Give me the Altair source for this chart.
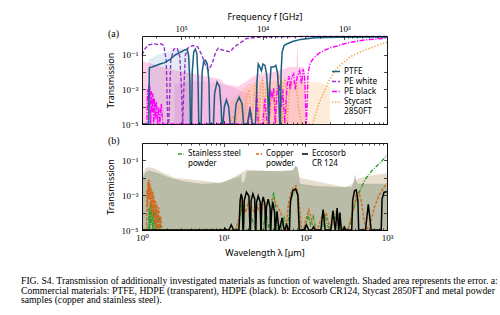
import altair as alt
import pandas as pd

C_UM_GHZ = 299792.458   # wavelength [um] = C / frequency [GHz]
T_FLOOR = 1e-5          # bottom of the transmission axes

# ---------------- panel (a): commercial materials ----------------
ptfe_lam = [1.0, 1.21, 1.23, 1.33, 1.66, 1.9, 2.2, 2.55, 2.9, 3.3, 3.56, 3.72, 3.85, 3.92,
            4.05, 4.12, 4.3, 4.5, 4.7, 4.85, 4.95,
            5.3, 5.45, 5.7, 6.0, 6.3, 6.6, 6.75,
            7.5, 7.75, 8.3, 8.9, 9.3, 9.5,
            9.8, 10.2, 10.8, 11.5, 12.0,
            13.5, 14.2, 15.5, 16.8, 17.5,
            19.5, 21.0, 22.5,
            24.5, 25.5, 26.5, 27.8, 29.0, 30.3, 32.0, 33.5, 34.5, 35.5,
            36.5, 38.0, 41.0, 43.5, 45.5, 47.0, 48.5,
            49.5, 50.5, 52.0, 55.0, 60.0, 70.0, 88.0, 130.0, 250.0, 1000.0]
ptfe_t = [1e-5, 1e-5, 0.018, 0.02, 0.03, 0.036, 0.055, 0.1, 0.14, 0.19, 0.22, 0.1, 0.003, 1e-5,
          1e-5, 0.01, 0.15, 0.22, 0.12, 0.005, 1e-5,
          1e-5, 0.01, 0.045, 0.05, 0.03, 0.003, 1e-5,
          1e-5, 6e-4, 2.7e-3, 1.5e-3, 1e-4, 1e-5,
          1e-5, 1e-4, 2.5e-4, 1e-4, 1e-5,
          1e-5, 1.5e-4, 3.5e-4, 1.5e-4, 1e-5,
          1e-5, 8e-5, 1e-5,
          1e-5, 2e-3, 0.03, 0.02, 0.012, 0.03, 0.025, 0.008, 1e-3, 1e-5,
          1e-3, 0.02, 0.02, 0.025, 0.01, 1e-3, 1e-5,
          1e-5, 0.01, 0.15, 0.35, 0.45, 0.6, 0.8, 1.0, 1.05, 1.1]

pew_lam = [1.0, 1.08, 1.2, 1.4, 1.55, 1.7, 1.85, 1.98, 2.06, 2.1,
           2.14, 2.25, 2.45, 2.7, 2.9, 3.05, 3.15, 3.25, 3.4, 3.7,
           4.2, 4.8, 5.4, 6.0, 6.5, 7.2, 8.0, 8.6, 9.4, 10.5,
           12.0, 13.5, 16.0, 19.0, 25.0, 40.0, 100.0, 1000.0]
pew_t = [0.1, 0.22, 0.38, 0.45, 0.4, 0.45, 0.35, 0.05, 2e-5, 1e-5,
         2e-5, 0.05, 0.22, 0.25, 0.08, 1e-3, 1e-5, 1e-3, 0.1, 0.28,
         0.35, 0.3, 0.1, 0.025, 0.013, 0.03, 0.15, 0.25, 0.2, 0.18,
         0.15, 0.3, 0.5, 0.9, 1.05, 1.12, 1.18, 1.2]

peb_lam = [1.0, 1.15, 1.17, 1.19, 1.21, 1.23, 1.25, 1.28, 1.3, 1.33,
           1.36, 1.39, 1.42, 1.46, 1.5, 1.55, 1.6, 1.65, 1.72, 1.8,
           20.0, 21.0, 22.0, 24.5, 25.5, 26.5, 30.0, 32.0, 34.0, 36.0,
           37.5, 39.0, 41.0, 43.0, 45.0, 48.0, 51.0, 53.0, 56.0, 60.0,
           63.0, 65.0, 68.0, 72.0, 75.0, 80.0, 85.0, 90.0, 94.0, 98.0,
           101.0, 103.0, 105.0, 108.0, 115.0, 125.0, 145.0, 165.0, 200.0, 245.0,
           300.0, 380.0, 510.0, 750.0, 1000.0]
peb_t = [1e-5, 1e-5, 1e-3, 1e-4, 2e-3, 3e-4, 1.5e-3, 1e-5, 8e-4, 5e-5,
         6e-4, 1e-5, 3e-4, 2e-5, 2e-4, 1e-5, 1e-4, 1e-5, 1.5e-4, 1e-5,
         1e-5, 1e-4, 1e-5, 1e-5, 8e-4, 1e-5, 1e-5, 3e-4, 1e-5, 1e-5,
         1e-3, 3e-4, 1.2e-3, 1e-5, 8e-4, 1.5e-3, 1e-4, 1e-3, 1e-5, 2e-3,
         6e-3, 1e-3, 5e-3, 8e-3, 1e-3, 6e-3, 0.012, 2e-3, 0.015, 5e-3,
         1e-4, 1e-5, 1e-4, 0.01, 0.035, 0.06, 0.12, 0.17, 0.26, 0.33,
         0.45, 0.57, 0.72, 0.85, 0.95]

sty_lam = [12.0, 13.0, 14.0, 15.5, 16.5, 17.5, 19.0, 20.5, 22.0, 24.0,
           25.5, 27.0, 28.5, 30.0, 31.5, 33.0, 35.0, 36.5, 38.0, 40.0,
           42.0, 44.0, 47.0, 50.0, 52.0, 54.0, 57.0, 60.0, 63.0, 68.0,
           74.0, 78.0, 82.0, 90.0, 123.0, 150.0, 200.0, 250.0, 320.0, 350.0,
           500.0, 750.0, 1000.0]
sty_t = [1e-5, 3e-5, 1e-5, 1e-4, 2e-4, 1e-5, 4e-4, 1e-3, 1e-5, 1.5e-3,
         4e-3, 1e-5, 2e-3, 5e-3, 1e-5, 1e-3, 1.5e-3, 1e-5, 2e-4, 8e-4,
         1e-5, 1e-3, 6e-3, 3e-3, 1e-5, 2e-3, 5e-3, 1e-5, 5e-4, 2e-3,
         2e-3, 2e-3, 1e-4, 1e-5, 1e-5, 2e-4, 4e-3, 0.02, 0.05, 0.077,
         0.17, 0.35, 0.55]

# error bands (upper edge; shading runs down to the axis floor)
ptfe_err_lam = [1.2, 1.5, 2.0, 3.0, 3.5, 4.0]
ptfe_err_up = [0.05, 0.1, 0.15, 0.25, 0.2, 0.05]
pew_err_lam = [2.5, 4.0, 6.0, 10.0, 15.0, 20.0]
pew_err_up = [2e-3, 3e-3, 3e-3, 2e-3, 1e-3, 5e-4]
peb_err_lam = [1.0, 1.5, 2.2, 4.4, 9.0, 10.4, 15.0, 20.0, 26.0, 40.0, 65.0, 78.0, 80.0, 82.0, 95.0, 100.0]
peb_err_up = [0.045, 0.025, 0.0155, 0.008, 0.004, 0.002, 0.0015, 0.0036, 0.008, 0.01, 0.02, 0.02, 0.7, 0.02, 0.02, 0.01]
sty_err_lam = [12.0, 20.0, 40.0, 70.0, 100.0, 150.0, 200.0]
sty_err_up = [2e-4, 2e-3, 3e-3, 3e-3, 3e-3, 2.5e-3, 1.5e-3]

# ---------------- panel (b): absorbers and powders ----------------
ecc_lam = [1.0, 10.0, 10.4, 10.9, 11.6, 12.4, 13.2, 15.2,
           15.4, 15.9, 16.4, 16.9, 17.2,
           17.5, 17.9, 19.0, 20.4, 21.0,
           21.3, 21.7, 22.8, 24.0, 24.5,
           24.8, 25.3, 26.5, 28.0, 28.5,
           28.8, 29.3, 30.5, 32.0, 32.5,
           32.8, 33.4, 35.0, 37.0, 37.5,
           37.8, 38.5, 40.0, 42.0, 42.5,
           43.0, 45.0, 47.5,
           48.0, 52.0, 55.0,
           56.0, 59.0, 62.0,
           64.0, 65.5, 70.0, 76.0, 81.0, 84.0,
           96.0, 103.0, 110.0,
           120.0, 126.0, 133.0,
           155.0, 165.0, 175.0,
           205.0, 218.0, 232.0,
           234.0, 245.0, 256.0,
           258.0, 265.0, 275.0,
           290.0, 300.0, 315.0,
           370.0, 380.0, 400.0, 420.0, 440.0, 450.0,
           545.0, 590.0, 640.0,
           850.0, 870.0, 920.0, 1000.0]
ecc_t = [1e-5, 1e-5, 1.2e-5, 1e-5, 1e-5, 2e-5, 1e-5, 1e-5,
         1e-5, 5e-4, 1.2e-3, 6e-4, 1e-5,
         1e-5, 5e-4, 1.5e-3, 9e-4, 1e-5,
         1e-5, 5e-4, 1.2e-3, 6e-4, 1e-5,
         1e-5, 4e-4, 9e-4, 4e-4, 1e-5,
         1e-5, 3e-4, 8e-4, 3e-4, 1e-5,
         1e-5, 2e-4, 6e-4, 2e-4, 1e-5,
         1e-5, 1e-4, 4e-4, 1e-4, 1e-5,
         1e-5, 1.2e-4, 1e-5,
         1e-5, 5e-5, 1e-5,
         1e-5, 2e-5, 1e-5,
         1e-5, 4e-4, 1.8e-3, 2.3e-3, 1e-3, 1e-5,
         1e-5, 2e-5, 1e-5,
         1e-5, 1.5e-5, 1e-5,
         1e-5, 1.5e-4, 1e-5,
         1e-5, 1.3e-4, 1e-5,
         1e-5, 1.8e-4, 1e-5,
         1e-5, 1e-4, 1e-5,
         1e-5, 1.5e-5, 1e-5,
         1e-5, 5e-4, 1.8e-3, 2e-3, 5e-4, 1e-5,
         1e-5, 3e-4, 1e-5,
         1e-5, 6e-4, 1.5e-3, 1.6e-3]

cu_lam = [1.0, 1.14, 1.155, 1.17, 1.185, 1.2, 1.215, 1.23, 1.245, 1.26,
          1.28, 1.30, 1.32, 1.34, 1.36, 1.38, 1.40, 1.43, 1.46, 1.49,
          1.52, 1.56, 1.60, 1.64, 1.69, 1.75, 1.8,
          14.0, 15.5, 16.5, 17.5, 18.5, 20.0, 22.0, 24.0, 26.0, 28.0,
          31.0, 34.0, 37.0, 40.0, 43.0, 46.0, 50.0, 55.0, 58.0, 62.0,
          67.0, 72.0, 77.0, 82.0, 86.0, 90.0,
          95.0, 100.0, 110.0, 118.0, 125.0, 140.0, 160.0, 180.0, 195.0, 205.0,
          220.0, 240.0, 260.0, 280.0, 330.0, 380.0, 420.0, 450.0, 480.0, 520.0,
          560.0, 620.0, 700.0, 800.0, 900.0, 1000.0]
cu_t = [1e-5, 1e-5, 2e-3, 2e-4, 6e-3, 8e-4, 8e-3, 6e-4, 5e-3, 1e-4,
        3e-3, 3e-4, 2e-3, 5e-5, 1.5e-3, 1e-4, 8e-4, 2e-5, 5e-4, 1e-5,
        3e-4, 1e-5, 2e-4, 1e-5, 6e-5, 1e-5, 1e-5,
        1e-5, 5e-5, 1e-3, 3e-4, 1e-4, 4e-4, 2e-4, 1e-4, 2e-4, 1e-4,
        3e-4, 4e-4, 5e-4, 6e-4, 4e-4, 2e-4, 1e-4, 1e-5, 1e-5, 3e-4,
        1.5e-3, 3e-3, 3.5e-3, 1e-3, 1e-4, 1e-5,
        1e-5, 3e-5, 1.5e-4, 5e-5, 1e-5, 1e-5, 6e-5, 1e-4, 2e-5, 1e-5,
        8e-5, 1.2e-4, 6e-5, 1e-5, 1e-5, 1e-4, 1e-3, 1.5e-3, 6e-4, 5e-5,
        1e-5, 2e-5, 2e-4, 1e-3, 2.5e-3, 5e-3]

ss_lam = [1.0, 1.2, 1.22, 1.24, 1.27, 1.29, 1.32, 1.35, 1.38, 1.41,
          1.45, 1.48, 1.52, 1.56, 1.62, 1.7,
          14.0, 15.5, 16.5, 17.3, 20.0, 22.0, 25.0, 30.0, 33.0, 36.0,
          39.0, 41.0, 43.0, 45.0, 50.0, 55.0, 60.0, 64.0, 68.0, 73.0,
          78.0, 82.0, 86.0,
          100.0, 108.0, 115.0, 125.0, 135.0, 160.0, 175.0, 185.0, 200.0, 230.0,
          245.0, 260.0, 290.0, 330.0, 360.0, 400.0, 470.0, 540.0, 650.0, 820.0, 1000.0]
ss_t = [1e-5, 1e-5, 2e-4, 1e-5, 4e-4, 2e-5, 3e-4, 1e-5, 2e-4, 1e-5,
        1.5e-4, 1e-5, 1e-4, 1e-5, 5e-5, 1e-5,
        1e-5, 2e-5, 3e-4, 1e-5, 1e-5, 5e-5, 1e-5, 1e-5, 1e-4, 1e-5,
        3e-4, 1.5e-3, 2e-4, 1e-5, 1e-5, 5e-5, 1e-5, 1e-4, 8e-4, 1.5e-3,
        1.8e-3, 5e-4, 1e-5,
        1e-5, 8e-5, 2e-5, 6e-5, 1e-5, 1e-5, 8e-5, 2e-5, 1e-5, 5e-5,
        1.2e-4, 3e-5, 1e-5, 1e-5, 3e-5, 2.5e-4, 2e-3, 8e-3, 0.025, 0.07, 0.2]

ecc_err_lam = [1.0, 1.05, 1.1, 1.2, 1.35, 1.6, 2.2, 3.5, 5.5, 9.0,
               13.0, 15.5, 16.3, 16.6, 17.0, 18.0, 18.8, 19.5, 30.0, 50.0,
               70.0, 76.0, 80.0, 84.0, 86.0, 130.0, 250.0, 370.0, 395.0, 405.0,
               420.0, 440.0, 1000.0]
ecc_err_up = [0.008, 0.014, 0.02, 0.026, 0.024, 0.018, 0.01, 0.006, 0.0045, 0.005,
              0.009, 0.012, 0.017, 0.006, 0.005, 0.007, 0.018, 0.025, 0.025, 0.025,
              0.027, 0.05, 0.04, 0.015, 0.0045, 0.0035, 0.003, 0.003, 0.007, 0.016,
              0.007, 0.0045, 0.0045]
cu_err_lam = [1.0, 1.1, 1.2, 1.4, 1.7, 2.5, 10.0, 15.0, 17.0, 19.5, 30.0, 300.0, 360.0, 450.0, 600.0, 800.0, 1000.0]
cu_err_up = [0.014, 0.035, 0.04, 0.035, 0.022, 0.01, 0.005, 0.015, 0.022, 0.03, 0.027, 0.003, 0.004, 0.009, 0.013, 0.016, 0.018]

# ---------------- ticks and labels ----------------
lam_major = [1, 10, 100, 1000]
lam_labels = ["10⁰", "10¹", "10²", "10³"]
lam_minor = [k * 10 ** n for n in range(3) for k in range(2, 10)]
freq_major_ghz = [1e5, 1e4, 1e3]
freq_labels = ["10⁵", "10⁴", "10³"]
freq_major = [C_UM_GHZ / f for f in freq_major_ghz]
freq_minor = [C_UM_GHZ / (k * 10 ** n) for n in range(2, 6) for k in range(2, 10)
              if 1 <= C_UM_GHZ / (k * 10 ** n) <= 1000]
t_decades = [1e-5, 1e-4, 1e-3, 1e-2, 1e-1]
t_label_vals = [1e-1, 1e-3, 1e-5]
t_labels = ["10⁻¹", "10⁻³", "10⁻⁵"]

caption_lines = [
    "FIG. S4.  Transmission of additionally investigated materials as function of wavelength.  Shaded area represents the error.  a:",
    "Commercial materials: PTFE, HDPE (transparent), HDPE (black).  b: Eccosorb CR124, Stycast 2850FT and metal powder",
    "samples (copper and stainless steel).",
]

# ---------------- helpers ----------------
SERIF = "Liberation Serif, DejaVu Serif, serif"
SANS = "Noto Sans, DejaVu Sans, sans-serif"
W, H = 500, 315
XS = alt.Scale(type="log", domain=[1, 1000], range=[142, 387], nice=False)
YA = alt.Scale(type="log", domain=[1e-5, 1.2589], range=[124, 36], nice=False)
YB = alt.Scale(type="log", domain=[1e-5, 1.0], range=[230, 143], nice=False)


def label_expr(values, labels):
    expr = "''"
    for v, l in reversed(list(zip(values, labels))):
        expr = f"abs(datum.value / {v} - 1) < 0.01 ? '{l}' : {expr}"
    return expr


def axis(orient, offset, values, labels=False, ticks=True, domain=False, tick_size=3.5,
         title=None, lexpr=None, label_padding=3, title_padding=4):
    kw = dict(orient=orient, offset=offset, values=values, labels=labels, ticks=ticks,
              domain=domain, grid=False, zindex=2, tickSize=tick_size, tickWidth=0.7,
              tickColor="black", domainColor="black", domainWidth=0.9,
              labelFont=SERIF, labelFontSize=9, labelColor="black",
              labelPadding=label_padding, labelFlush=False, labelOverlap=False,
              titleFont=SANS, titleFontSize=9, titleFontWeight="normal",
              titleColor="black", titlePadding=title_padding, title=title)
    if lexpr:
        kw["labelExpr"] = lexpr
    return alt.Axis(**kw)


def series(lam, t, name):
    return pd.DataFrame({"lam": lam, "T": t, "name": name})


def band(lam, up):
    return pd.DataFrame({"lam": lam, "up": up, "lo": [T_FLOOR] * len(lam)})


def area_layer(df, color, opacity, ys, xaxis=None, yaxis=None):
    return alt.Chart(df).mark_area(color=color, opacity=opacity).encode(
        x=alt.X("lam:Q", scale=XS, axis=xaxis),
        y=alt.Y("up:Q", scale=ys, axis=yaxis),
        y2=alt.Y2("lo"),
    )


def legend(x, y, dash=None, lexpr=None, size=64, font_size=8.5):
    kw = dict(orient="none", legendX=x, legendY=y, title=None, symbolType="stroke",
              symbolStrokeWidth=1.5, symbolSize=size, labelFont=SANS, labelFontSize=font_size,
              labelColor="black", padding=0, offset=0, labelOffset=3)
    if dash:
        kw["symbolDash"] = dash
    if lexpr:
        kw["labelExpr"] = lexpr
    return alt.Legend(**kw)


def line_layer(df, color, dash, ys, leg, width=1.4, xaxis=None, yaxis=None):
    mk = dict(strokeWidth=width)
    if dash:
        mk["strokeDash"] = dash
    return alt.Chart(df).mark_line(**mk).encode(
        x=alt.X("lam:Q", scale=XS, axis=xaxis),
        y=alt.Y("T:Q", scale=ys, axis=yaxis),
        color=alt.Color("name:N", scale=alt.Scale(range=[color]), legend=leg),
    )


def text_layer(text, x, y, font, size, baseline="middle", line_height=10):
    return alt.Chart(alt.Data(values=[{}])).mark_text(
        text=text, font=font, fontSize=size, align="left", baseline=baseline,
        lineHeight=line_height, color="black",
    ).encode(x=alt.value(x), y=alt.value(y))


# ---------------- panel (a) layers ----------------
A_TOP, A_BOT, B_TOP, B_BOT, LEFT, RIGHT = 36, 124, 143, 230, 142, 387

layers = [
    area_layer(band(ptfe_err_lam, ptfe_err_up), "#a9c8dc", 0.35, YA,
               xaxis=axis("top", -A_TOP, freq_major, labels=True, ticks=False, domain=True,
                          title="Frequency f [GHz]", lexpr=label_expr(freq_major, freq_labels),
                          label_padding=3, title_padding=3),
               yaxis=axis("left", -LEFT, t_label_vals, labels=True, ticks=False, domain=True,
                          title="Transmission", lexpr=label_expr(t_label_vals, t_labels),
                          label_padding=4, title_padding=6)),
    area_layer(band(pew_err_lam, pew_err_up), "#9932cc", 0.12, YA,
               xaxis=axis("bottom", A_TOP - H, freq_major),
               yaxis=axis("right", LEFT - W, t_decades)),
    area_layer(band(peb_err_lam, peb_err_up), "#ff1493", 0.2, YA,
               xaxis=axis("bottom", A_TOP - H, freq_minor, tick_size=2),
               yaxis=axis("left", -RIGHT, t_decades, domain=True)),
    area_layer(band(sty_err_lam, sty_err_up), "#f5a040", 0.2, YA,
               xaxis=axis("top", -A_BOT, lam_major, domain=True)),
    line_layer(series(sty_lam, sty_t, "Stycast 2850FT"), "#f5a040", [1.3, 1.8], YA,
               legend(331, 97, [1.3, 1.8], "['Stycast', '2850FT']", font_size=8.3), width=1.5,
               xaxis=axis("top", -A_BOT, lam_minor, tick_size=2)),
    line_layer(series(peb_lam, peb_t, "PE black"), "#ff00ff", [5, 1.5, 1.2, 1.5], YA,
               legend(331, 86.5, [5, 1.5, 1.2, 1.5], font_size=8.3)),
    line_layer(series(pew_lam, pew_t, "PE white"), "#9932cc", [4, 2], YA,
               legend(331, 76.5, [4, 2], font_size=8.3)),
    line_layer(series(ptfe_lam, ptfe_t, "PTFE"), "#1b5f7f", None, YA,
               legend(331, 66.5, font_size=8.3), width=1.5),
]

# ---------------- panel (b) layers ----------------
layers += [
    area_layer(band(cu_err_lam, cu_err_up), "#d8c8b0", 0.6, YB,
               xaxis=axis("bottom", B_TOP - H, lam_major, domain=True),
               yaxis=axis("left", -LEFT, t_label_vals, labels=True, ticks=False, domain=True,
                          title="Transmission", lexpr=label_expr(t_label_vals, t_labels),
                          label_padding=4, title_padding=6)),
    area_layer(band(ecc_err_lam, ecc_err_up), "#b4b8a2", 0.9, YB,
               xaxis=axis("bottom", B_TOP - H, lam_minor, tick_size=2),
               yaxis=axis("right", LEFT - W, t_decades)),
    line_layer(series(ss_lam, ss_t, "Stainless steel powder"), "#2f9a2f", [4, 1.5, 1, 1.5], YB,
               legend(177, 150, [4, 1.5, 1, 1.5], "['Stainless steel', 'powder']", size=36, font_size=8),
               xaxis=axis("bottom", B_BOT - H, lam_major, labels=True, ticks=False, domain=True,
                          title="Wavelength λ [µm]", lexpr=label_expr(lam_major, lam_labels),
                          label_padding=3, title_padding=6),
               yaxis=axis("left", -RIGHT, t_decades, domain=True)),
    line_layer(series(cu_lam, cu_t, "Copper powder"), "#d2691e", [3, 1.6], YB,
               legend(255, 150, [3, 1.6], "['Copper', 'powder']", size=36, font_size=8),
               xaxis=axis("top", -B_BOT, lam_major)),
    line_layer(series(ecc_lam, ecc_t, "Eccosorb CR 124"), "#000000", None, YB,
               legend(301, 150, None, "['Eccosorb', 'CR 124']", size=36, font_size=8),
               width=1.5, xaxis=axis("top", -B_BOT, lam_minor, tick_size=2)),
]

# ---------------- panel letters and caption ----------------
layers += [
    text_layer("(a)", 108, 34, SERIF, 10),
    text_layer("(b)", 108, 141, SERIF, 10),
    text_layer(caption_lines, 21, 276, SERIF, 9.7, baseline="top", line_height=9.6),
]

chart = (
    alt.layer(*layers)
    .resolve_scale(y="independent", color="independent")
    .resolve_axis(x="independent", y="independent")
    .properties(width=W, height=H, padding=0, background="white",
                autosize=alt.AutoSizeParams(type="none"))
    .configure_view(stroke="transparent")
)

chart.save("out.html", embed_options={"renderer": "svg", "actions": False})
